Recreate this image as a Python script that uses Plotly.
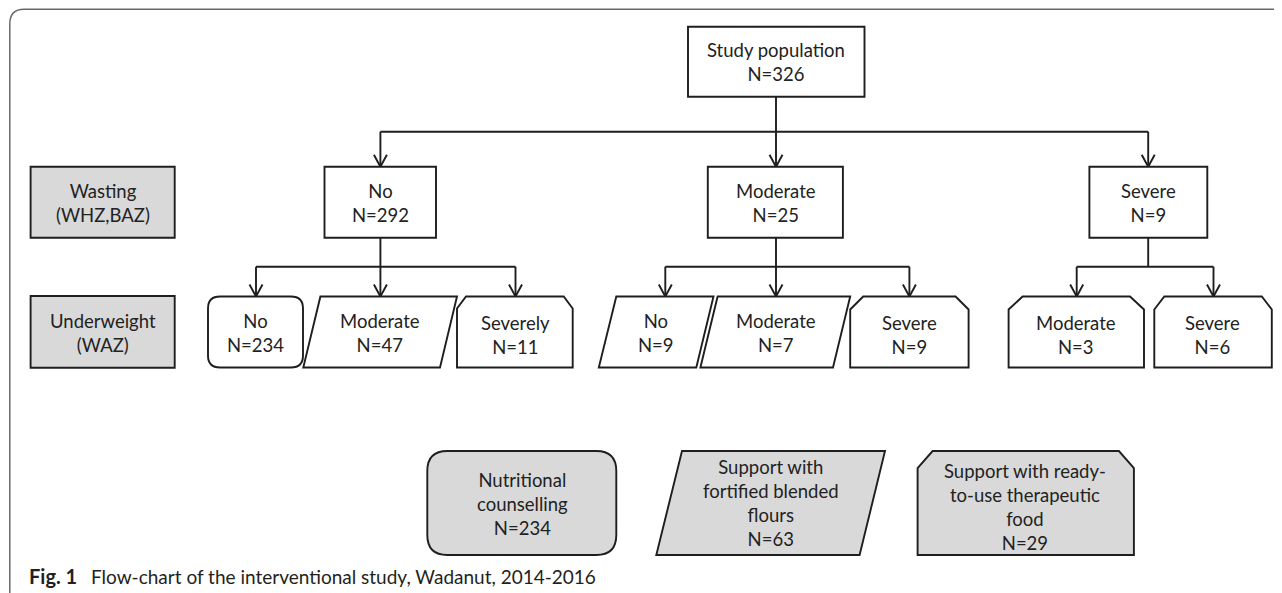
import plotly.graph_objects as go

# ---------------- data ----------------
total_label = "Study population"
total_n = 326

row_labels = ["Wasting<br>(WHZ,BAZ)", "Underweight<br>(WAZ)"]

wasting_categories = ["No", "Moderate", "Severe"]
wasting_n = [292, 25, 9]

underweight_categories = [["No", "Moderate", "Severely"],
                          ["No", "Moderate", "Severe"],
                          ["Moderate", "Severe"]]
underweight_n = [[234, 47, 11],
                 [9, 7, 9],
                 [3, 6]]

intervention_labels = ["Nutritional<br>counselling",
                       "Support with<br>fortified blended<br>flours",
                       "Support with ready-<br>to-use therapeutic<br>food"]
intervention_n = [234, 63, 29]

caption_bold = "Fig. 1"
caption_text = "Flow-chart of the interventional study, Wadanut, 2014-2016"

# ---------------- layout geometry (page pixels) ----------------
W, H = 1282, 593
PAGE_MARGIN = 8          # default body margin of the html page
STROKE = "#1e1e1e"
GRAY = "#d9d9d9"
LW = 1.9
FONT = "Lato"
FS = 18.5

shapes = []
annots = []


def rect_path(x0, y0, x1, y1):
    return f"M{x0},{y0} L{x1},{y0} L{x1},{y1} L{x0},{y1} Z"


def round_path(x0, y0, x1, y1, r):
    return (f"M{x0+r},{y0} L{x1-r},{y0} Q{x1},{y0} {x1},{y0+r} L{x1},{y1-r} "
            f"Q{x1},{y1} {x1-r},{y1} L{x0+r},{y1} Q{x0},{y1} {x0},{y1-r} "
            f"L{x0},{y0+r} Q{x0},{y0} {x0+r},{y0} Z")


def para_path(tl, tr, bl, br, y0, y1):
    return f"M{tl},{y0} L{tr},{y0} L{br},{y1} L{bl},{y1} Z"


def clip_path(x0, y0, x1, y1, dx, dy):
    return (f"M{x0},{y1} L{x0},{y0+dy} L{x0+dx},{y0} L{x1-dx},{y0} "
            f"L{x1},{y0+dy} L{x1},{y1} Z")


def add_shape(path, fill="white"):
    shapes.append(dict(type="path", path=path, xref="x", yref="y",
                       line=dict(color=STROKE, width=LW), fillcolor=fill,
                       layer="above"))


def add_line(x0, y0, x1, y1):
    shapes.append(dict(type="line", x0=x0, y0=y0, x1=x1, y1=y1, xref="x", yref="y",
                       line=dict(color=STROKE, width=LW), layer="above"))


def add_arrow(x, y_from, y_to):
    add_line(x, y_from, x, y_to)
    shapes.append(dict(type="path", path=f"M{x-6.5},{y_to-12} L{x},{y_to} L{x+6.5},{y_to-12}",
                       xref="x", yref="y", line=dict(color=STROKE, width=LW), layer="above"))


def add_text(x, y, text, size=FS, anchor="center", color="#222222", family=FONT):
    annots.append(dict(x=x, y=y, xref="x", yref="y", text=text, showarrow=False,
                       xanchor=anchor, yanchor="middle",
                       font=dict(family=family, size=size, color=color)))


# outer frame (rounded top-left corner)
shapes.append(dict(type="path", path="M9.8,600 L9.8,24 Q9.8,9.3 24,9.3 L1300,9.3",
                   xref="x", yref="y", line=dict(color="#6a6a6a", width=1.5)))

# top box
add_shape(rect_path(688, 26.7, 864.5, 96.7))
add_text(776, 62, f"{total_label}<br>N={total_n}")

# row label boxes
row_y = [(166.7, 237.7), (296, 367.7)]
row_text_y = [203.3, 332.5]
for lab, (y0, y1), ty in zip(row_labels, row_y, row_text_y):
    add_shape(rect_path(30.6, y0, 174.7, y1), fill=GRAY)
    add_text(102.6, ty, lab)

# wasting level
wast_x = [(324.5, 436), (707.8, 842.9), (1089.4, 1207.3)]
wast_cx = [380.4, 776, 1148.2]
top_bar_y = 131.7
add_line(776, 96.7, 776, top_bar_y)
add_line(wast_cx[0], top_bar_y, wast_cx[-1], top_bar_y)
for cat, n, (x0, x1), cx in zip(wasting_categories, wasting_n, wast_x, wast_cx):
    add_arrow(cx, top_bar_y, 166.7)
    add_shape(rect_path(x0, 166.7, x1, 237.7))
    add_text(cx, 203, f"{cat}<br>N={n}")

# underweight level
branch_y = 266.7
uw_top, uw_bot = 296.5, 367.5
arrow_x = [[256, 380.4, 515.5], [665.3, 776, 909.4], [1076.7, 1213.5]]
uw_shapes = [
    [("round", (208, 303, 12)),
     ("para", (320.4, 457, 303.3, 440)),
     ("clip", (457, 572.7, 9, 12))],
    [("para", (616.3, 713.5, 598.8, 696.3)),
     ("para", (717.6, 850.2, 700.4, 833)),
     ("clip", (850.2, 968.6, 13, 13))],
    [("clip", (1008.6, 1144, 14, 13)),
     ("clip", (1154.3, 1271.8, 10, 13))],
]
uw_text_x = [[255.5, 380.4, 515], [656, 776, 909.4], [1076, 1212.6]]

for g, cx in enumerate(wast_cx):
    xs = arrow_x[g]
    add_line(cx, 237.7, cx, branch_y)
    add_line(min(xs), branch_y, max(xs), branch_y)
    for ax in xs:
        add_arrow(ax, branch_y, uw_top)
    for (kind, p), cat, n, tx in zip(uw_shapes[g], underweight_categories[g],
                                      underweight_n[g], uw_text_x[g]):
        if kind == "round":
            add_shape(round_path(p[0], uw_top, p[1], uw_bot, p[2]))
            ty = 332.5
        elif kind == "para":
            add_shape(para_path(p[0], p[1], p[2], p[3], uw_top, uw_bot))
            ty = 332.5
        else:
            add_shape(clip_path(p[0], uw_top, p[1], uw_bot, p[2], p[3]))
            ty = 335
        add_text(tx, ty, f"{cat}<br>N={n}")

# intervention boxes
iv_top, iv_bot = 451, 555
add_shape(round_path(427.3, iv_top, 616.3, iv_bot, 20), fill=GRAY)
add_shape(para_path(682, 885, 656.3, 859.6, iv_top, iv_bot), fill=GRAY)
add_shape(clip_path(917.6, iv_top, 1133.9, iv_bot, 15, 17), fill=GRAY)
iv_text = [(522, 503.5), (770.5, 503), (1025, 507)]
for lab, n, (tx, ty) in zip(intervention_labels, intervention_n, iv_text):
    add_text(tx, ty, f"{lab}<br>N={n}")

# caption
add_text(26.5, 576, f"<b>{caption_bold}</b>", size=20, anchor="left",
         color="#231f20", family="Lato")
add_text(89, 576, caption_text, size=19, anchor="left",
         color="#231f20", family="Lato")

fig = go.Figure()
fig.add_trace(go.Scatter(x=[PAGE_MARGIN, W], y=[PAGE_MARGIN, H], mode="markers",
                         marker=dict(opacity=0), hoverinfo="skip", showlegend=False))
fig.update_layout(
    width=W - PAGE_MARGIN, height=H - PAGE_MARGIN,
    margin=dict(l=0, r=0, t=0, b=0),
    paper_bgcolor="white", plot_bgcolor="white",
    xaxis=dict(range=[PAGE_MARGIN, W], visible=False, fixedrange=True),
    yaxis=dict(range=[H, PAGE_MARGIN], visible=False, fixedrange=True),
    shapes=shapes, annotations=annots, showlegend=False,
)
fig.write_html("out.html", config={"displayModeBar": False})
